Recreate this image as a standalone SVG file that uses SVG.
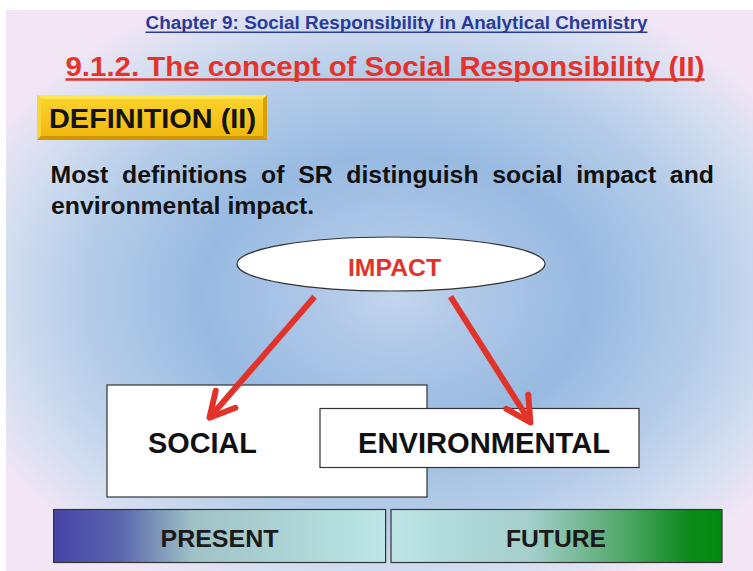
<svg xmlns="http://www.w3.org/2000/svg" width="753" height="571" viewBox="0 0 753 571">
<defs>
<radialGradient id="bg" gradientUnits="userSpaceOnUse" cx="395" cy="295" r="460" gradientTransform="translate(395 295) scale(1 0.72) translate(-395 -295)">
<stop offset="0" stop-color="#c4d6ee"/>
<stop offset="0.16" stop-color="#b0c8e8"/>
<stop offset="0.42" stop-color="#98bae1"/>
<stop offset="0.68" stop-color="#b6cde9"/>
<stop offset="0.86" stop-color="#d4def0"/>
<stop offset="1" stop-color="#f2e6f5"/>
</radialGradient>
<linearGradient id="gPresent" x1="0" y1="0" x2="1" y2="0">
<stop offset="0" stop-color="#4643a6"/>
<stop offset="0.2" stop-color="#5a66ae"/>
<stop offset="0.42" stop-color="#9fc2c6"/>
<stop offset="0.9" stop-color="#b6e0e0"/>
<stop offset="1" stop-color="#bfe6e6"/>
</linearGradient>
<linearGradient id="gFuture" x1="0" y1="0" x2="1" y2="0">
<stop offset="0" stop-color="#bfe6e6"/>
<stop offset="0.12" stop-color="#b4dede"/>
<stop offset="0.42" stop-color="#a4cfcc"/>
<stop offset="0.7" stop-color="#52a86a"/>
<stop offset="0.9" stop-color="#0b8a1a"/>
<stop offset="1" stop-color="#008a10"/>
</linearGradient>
<linearGradient id="gGold" x1="0" y1="0" x2="0" y2="1">
<stop offset="0" stop-color="#fbd22a"/>
<stop offset="1" stop-color="#f2b812"/>
</linearGradient>
<marker id="arr" markerUnits="userSpaceOnUse" viewBox="-32 -18 36 36" markerWidth="36" markerHeight="36" refX="0" refY="0" orient="auto" overflow="visible">
<path d="M-24.5 -13 L0 0 L-24.5 13" fill="none" stroke="#e2332a" stroke-width="6" stroke-linecap="round" stroke-linejoin="round"/>
</marker>
<style>
.b{font-family:"Liberation Sans",Arial,sans-serif;font-weight:bold}
.box{fill:#ffffff;stroke:#333333;stroke-width:1.2}
.bar{stroke:#333333;stroke-width:1.2}
.lbl{font-size:29px;fill:#111111}
.barlbl{font-size:24.5px;fill:#1a1a1a}
.conn{fill:none;stroke:#e2332a;stroke-width:6;stroke-linecap:butt;marker-end:url(#arr)}
</style>
</defs>
<rect x="0" y="0" width="753" height="571" fill="#ffffff"/>
<rect x="6" y="10" width="747" height="561" fill="url(#bg)"/>

<g id="header">
<text class="b" x="145.5" y="29.3" font-size="17.5" fill="#2b3a98" textLength="502" lengthAdjust="spacingAndGlyphs">Chapter 9: Social Responsibility in Analytical Chemistry</text>
<line x1="145.5" y1="32.2" x2="647.5" y2="32.2" stroke="#2b3a98" stroke-width="1.6"/>
<text class="b" x="65.5" y="75.5" font-size="28.5" fill="#e4332a" textLength="639" lengthAdjust="spacingAndGlyphs">9.1.2. The concept of Social Responsibility (II)</text>
<line x1="65.5" y1="79.5" x2="704.5" y2="79.5" stroke="#e4332a" stroke-width="2.6"/>
</g>

<g id="definition-badge">
<rect x="37" y="95" width="230" height="45" fill="#e8ae10"/>
<polygon points="37,95 267,95 263,99 41,99" fill="#fde650"/>
<polygon points="37,95 41,99 41,136 37,140" fill="#f8d63a"/>
<polygon points="37,140 41,136 263,136 267,140" fill="#cf9600"/>
<polygon points="267,95 267,140 263,136 263,99" fill="#d9a204"/>
<rect x="41" y="99" width="222" height="37" fill="url(#gGold)"/>
<text class="b" x="49" y="127.7" font-size="28.5" fill="#141414" textLength="207" lengthAdjust="spacingAndGlyphs">DEFINITION (II)</text>
</g>

<g id="body-text">
<text class="b" x="50.5" y="183" font-size="24.8" fill="#111111" word-spacing="6.8">Most definitions of SR distinguish social impact and</text>
<text class="b" x="51" y="214" font-size="24.8" fill="#111111">environmental impact.</text>
</g>

<g id="node-impact">
<ellipse cx="391" cy="264" rx="154" ry="27" fill="#ffffff" stroke="#333333" stroke-width="1.2"/>
<text class="b" x="394.5" y="275.7" font-size="24" fill="#e2332a" text-anchor="middle" textLength="93" lengthAdjust="spacingAndGlyphs">IMPACT</text>
</g>

<g id="node-social">
<rect class="box" x="107" y="385" width="320" height="112"/>
<text class="b lbl" x="148" y="453" textLength="109" lengthAdjust="spacingAndGlyphs">SOCIAL</text>
</g>

<g id="node-environmental">
<rect class="box" x="320" y="408.5" width="319" height="59"/>
<text class="b lbl" x="358" y="453" textLength="252" lengthAdjust="spacingAndGlyphs">ENVIRONMENTAL</text>
</g>

<g id="connectors">
<path class="conn" d="M314.6 296.7 L209.5 417.7"/>
<path class="conn" d="M450.5 296.7 L530.4 422.5"/>
</g>

<g id="bar-present">
<rect class="bar" x="53.6" y="509.5" width="332" height="53" fill="url(#gPresent)"/>
<text class="b barlbl" x="160.5" y="546.7" textLength="118" lengthAdjust="spacingAndGlyphs">PRESENT</text>
</g>

<g id="bar-future">
<rect class="bar" x="391" y="509.5" width="331" height="53" fill="url(#gFuture)"/>
<text class="b barlbl" x="506" y="546.7" textLength="100" lengthAdjust="spacingAndGlyphs">FUTURE</text>
</g>
</svg>
